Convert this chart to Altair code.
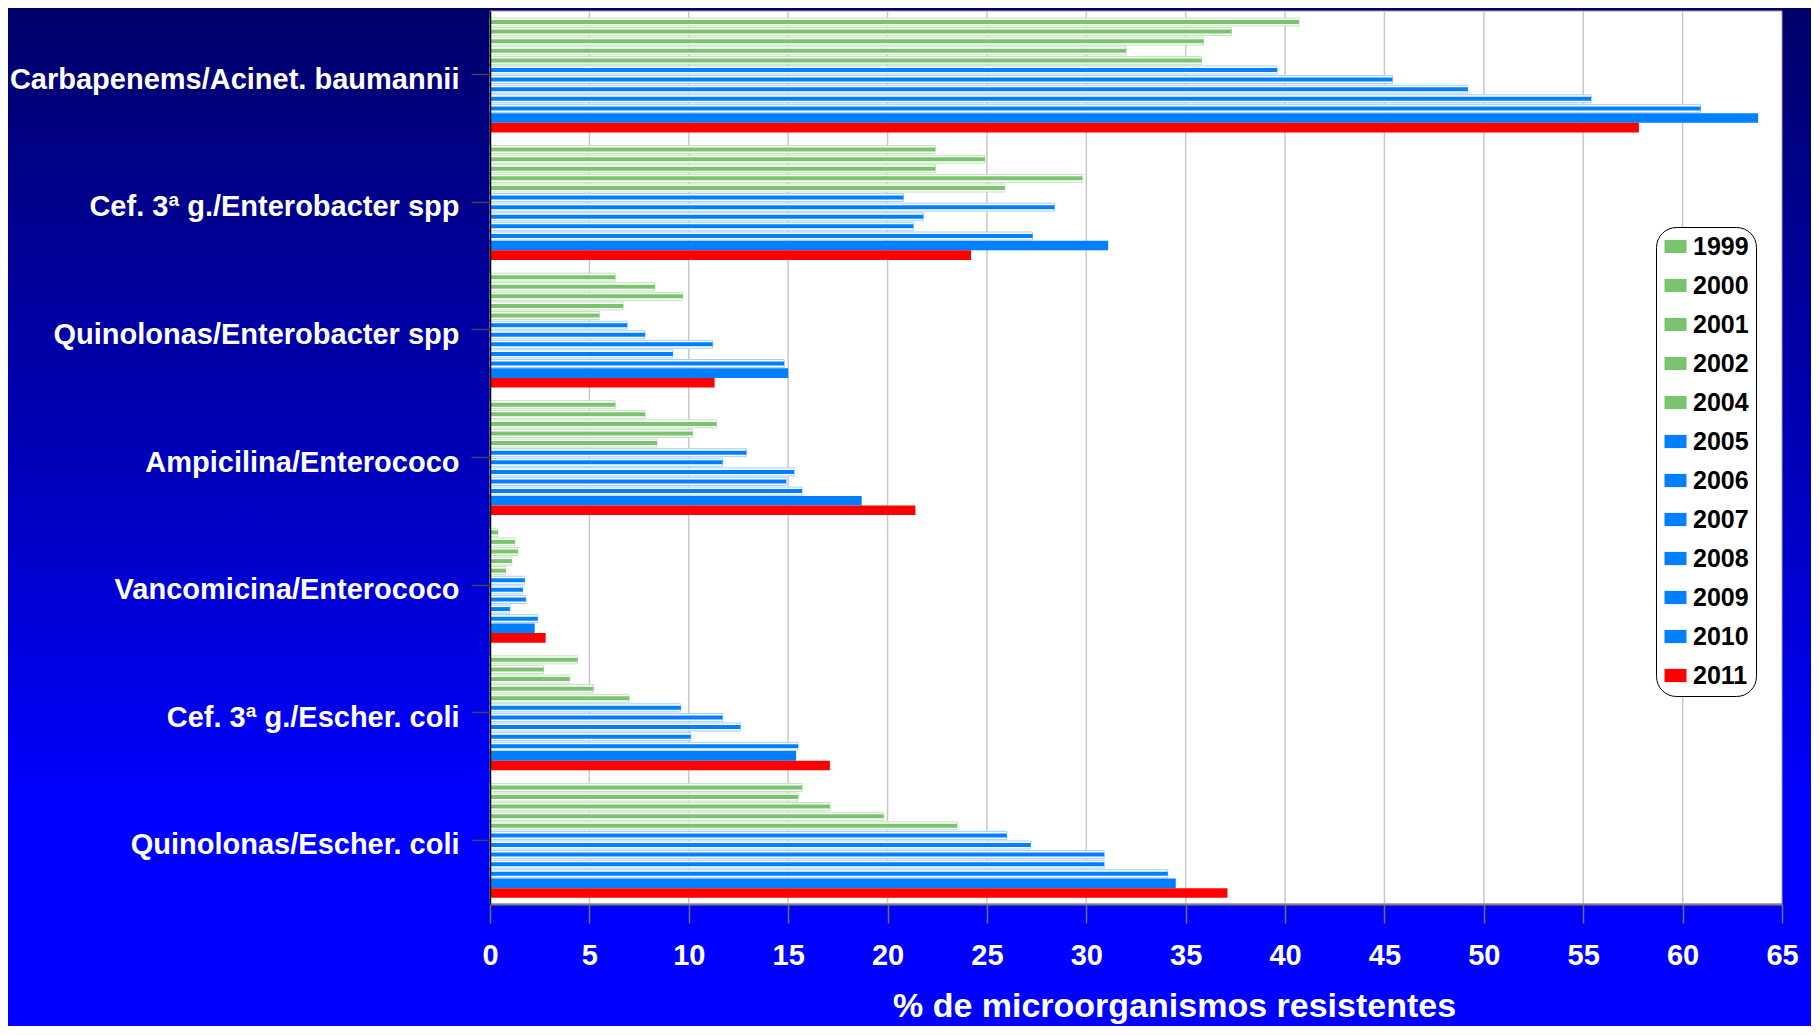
import altair as alt
import pandas as pd

categories = [
    "Carbapenems/Acinet. baumannii",
    "Cef. 3ª g./Enterobacter spp",
    "Quinolonas/Enterobacter spp",
    "Ampicilina/Enterococo",
    "Vancomicina/Enterococo",
    "Cef. 3ª g./Escher. coli",
    "Quinolonas/Escher. coli",
]
years = ["1999", "2000", "2001", "2002", "2004", "2005", "2006",
         "2007", "2008", "2009", "2010", "2011"]
year_colors = ["#7AC46F"] * 5 + ["#0080FF"] * 6 + ["#FF0000"]

carbapenems_acinet = [40.7, 37.3, 35.9, 32.0, 35.8, 39.6, 45.4, 49.2, 55.4, 60.9, 63.8, 57.8]
cef_enterobacter = [22.4, 24.9, 22.4, 29.8, 25.9, 20.8, 28.4, 21.8, 21.3, 27.3, 31.1, 24.2]
quin_enterobacter = [6.3, 8.3, 9.7, 6.7, 5.5, 6.9, 7.8, 11.2, 9.2, 14.8, 15.0, 11.3]
ampicilina_enterococo = [6.3, 7.8, 11.4, 10.2, 8.4, 12.9, 11.7, 15.3, 14.9, 15.7, 18.7, 21.4]
vancomicina_enterococo = [0.4, 1.25, 1.4, 1.1, 0.8, 1.75, 1.65, 1.8, 1.0, 2.4, 2.25, 2.8]
cef_escher = [4.4, 2.7, 4.0, 5.2, 7.0, 9.6, 11.7, 12.6, 10.1, 15.5, 15.4, 17.1]
quin_escher = [15.7, 15.5, 17.1, 19.8, 23.5, 26.0, 27.2, 30.9, 30.9, 34.1, 34.5, 37.1]

x_ticks = [0, 5, 10, 15, 20, 25, 30, 35, 40, 45, 50, 55, 60, 65]
grid_ticks = [5, 10, 15, 20, 25, 30, 35, 40, 45, 50, 55, 60]

series = [carbapenems_acinet, cef_enterobacter, quin_enterobacter,
          ampicilina_enterococo, vancomicina_enterococo, cef_escher, quin_escher]

rows = []
for cat, vals in zip(categories, series):
    for i, (yr, v) in enumerate(zip(years, vals)):
        rows.append({"cat": cat, "year": yr, "value": v,
                     "grp": "g" if i < 5 else ("b" if i < 10 else "t")})
df = pd.DataFrame(rows)
df_thin = df[df["grp"] != "t"]
df_thick = df[df["grp"] == "t"]

W, H = 1292, 893
PL, PT, PR, PB = 482, 3, 29, 122
FONT = "Liberation Sans"

xscale = alt.Scale(domain=[0, 65], nice=False)
yscale = alt.Scale(domain=categories, paddingInner=0.097, paddingOuter=0.0485)
yoff_scale = alt.Scale(domain=years, paddingInner=0, paddingOuter=0)
color_scale = alt.Scale(domain=years, range=year_colors)

x_axis = alt.Axis(values=x_ticks, grid=False, labelFont=FONT, labelFontSize=29,
                  labelFontWeight="bold", labelColor="white", labelPadding=18,
                  labelFlush=False, labelOverlap=False,
                  tickSize=19, tickColor="#707070", tickWidth=1.5,
                  domainColor="#808080", domainWidth=2,
                  title="% de microorganismos resistentes", titleFont=FONT,
                  titleFontSize=34, titleFontWeight="bold", titleColor="white",
                  titleX=684, titleY=112, titleAlign="center",
                  titleBaseline="alphabetic", zindex=1)
y_axis = alt.Axis(title=None, grid=False, labelFont=FONT, labelFontSize=29,
                  labelFontWeight="bold", labelColor="white", labelPadding=12,
                  labelOffset=5, labelLimit=700, tickSize=19, tickColor="#404060",
                  tickWidth=1.5, domainColor="black", domainWidth=1.5, zindex=1)

one = alt.Data(values=[{"a": 1}])

bg = alt.Chart(one).mark_rect(
    color=alt.Gradient(gradient="linear", x1=0, x2=0, y1=0, y2=1,
                       stops=[alt.GradientStop(color="#00006A", offset=0),
                              alt.GradientStop(color="#0000C4", offset=0.5),
                              alt.GradientStop(color="#0000FF", offset=0.78),
                              alt.GradientStop(color="#0000FF", offset=1)])
).encode(x=alt.value(-PL), x2=alt.value(W + PR), y=alt.value(-PT), y2=alt.value(H + PB))

plot_bg = alt.Chart(one).mark_rect(fill="white", stroke="#a0a0a0", strokeWidth=1).encode(
    x=alt.value(0), x2=alt.value(W), y=alt.value(0), y2=alt.value(H))

grid = alt.Chart(pd.DataFrame({"v": grid_ticks})).mark_rule(
    color="#c8c8c8", strokeWidth=1.5).encode(
    x=alt.X("v:Q", scale=xscale, axis=x_axis), y=alt.value(0), y2=alt.value(H))

outline = alt.Chart(df_thin).mark_bar(size=8, fill="white", strokeWidth=1).encode(
    x=alt.X("value:Q", scale=xscale, axis=x_axis),
    y=alt.Y("cat:N", scale=yscale, axis=y_axis, sort=categories),
    yOffset=alt.YOffset("year:N", scale=yoff_scale, sort=years),
    stroke=alt.condition("datum.grp == 'g'", alt.value("#bfe3b8"), alt.value("#a8cff8")),
)

legend = alt.Legend(title=None, orient="none", legendX=1166, legendY=216,
                    direction="vertical", fillColor="white", strokeColor="black",
                    cornerRadius=20, padding=7, labelFont=FONT, labelFontSize=25,
                    labelFontWeight="bold", labelColor="black", labelOffset=5,
                    symbolType="M-1,-0.6H1V0.6H-1Z", symbolSize=484,
                    symbolStrokeWidth=0, rowPadding=13, zindex=1)

thin = alt.Chart(df_thin).mark_bar(size=4).encode(
    x=alt.X("value:Q", scale=xscale, axis=x_axis),
    y=alt.Y("cat:N", scale=yscale, axis=y_axis, sort=categories),
    yOffset=alt.YOffset("year:N", scale=yoff_scale, sort=years),
    color=alt.Color("year:N", scale=color_scale, legend=legend, sort=years),
)

thick = alt.Chart(df_thick).mark_bar().encode(
    x=alt.X("value:Q", scale=xscale, axis=x_axis),
    y=alt.Y("cat:N", scale=yscale, axis=y_axis, sort=categories),
    yOffset=alt.YOffset("year:N", scale=yoff_scale, sort=years),
    color=alt.Color("year:N", scale=color_scale, legend=legend, sort=years),
)

chart = alt.layer(bg, plot_bg, grid, outline, thin, thick).properties(
    width=W, height=H,
    padding={"left": PL, "top": PT, "right": PR, "bottom": PB},
    autosize=alt.AutoSizeParams(type="none"),
).configure(background="#0000C0").configure_view(strokeWidth=0)

chart.save("out.html", embed_options={"renderer": "svg", "actions": False})
